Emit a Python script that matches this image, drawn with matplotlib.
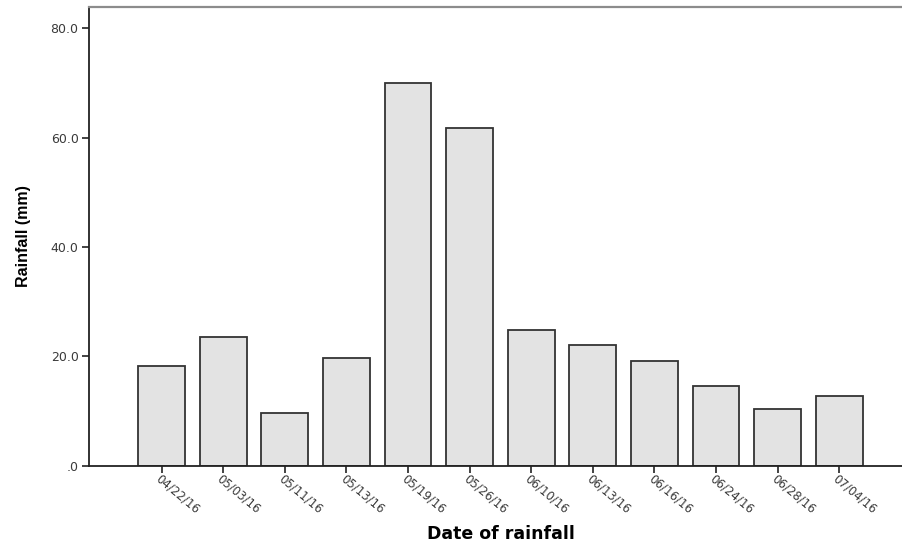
import numpy as np
import matplotlib
matplotlib.use("Agg")
import matplotlib.pyplot as plt

# rainfall per date
dates = ["04/22/16", "05/03/16", "05/11/16", "05/13/16", "05/19/16", "05/26/16",
         "06/10/16", "06/13/16", "06/16/16", "06/24/16", "06/28/16", "07/04/16"]
rain_mm = [18.2, 23.5, 9.7, 19.8, 70.0, 61.8, 24.9, 22.1, 19.1, 14.6, 10.3, 12.8]
y_ticks = [0, 20, 40, 60, 80]
y_tick_labels = [".0", "20.0", "40.0", "60.0", "80.0"]

fig = plt.figure(figsize=(9.03, 5.46), dpi=100)
ax = fig.add_axes([0.0986, 0.147, 0.92, 0.841])

x = np.arange(len(dates))
ax.bar(x, rain_mm, width=0.76, color="#e3e3e3", edgecolor="#333333", linewidth=1.3)

ax.set_xlim(-1.177, 12.31)
ax.set_ylim(0, 84)

ax.set_yticks(y_ticks)
ax.set_yticklabels(y_tick_labels, fontsize=9, color="#3a3a3a")
ax.set_xticks(x)
ax.set_xticklabels(dates, fontsize=8.5, color="#3a3a3a", rotation=-40,
                   ha="left", va="top", rotation_mode="anchor")
ax.tick_params(axis="both", direction="out", length=5, width=1.2, color="#222222")
ax.tick_params(axis="x", pad=0)
ax.tick_params(axis="y", pad=2.5)

for side in ["left", "bottom"]:
    ax.spines[side].set_color("#222222")
    ax.spines[side].set_linewidth(1.3)
ax.spines["top"].set_color("#8c8c8c")
ax.spines["top"].set_linewidth(1.6)
ax.spines["right"].set_visible(False)

ax.set_ylabel("Rainfall (mm)", fontsize=11.5, fontweight="bold",
              family=["Liberation Sans Narrow", "Liberation Sans", "DejaVu Sans"])
ax.yaxis.set_label_coords(-0.07, 0.5)
ax.set_xlabel("Date of rainfall", fontsize=12.5, fontweight="bold")
ax.xaxis.set_label_coords(0.496, -0.128)

fig.savefig("out.png", dpi=100)
